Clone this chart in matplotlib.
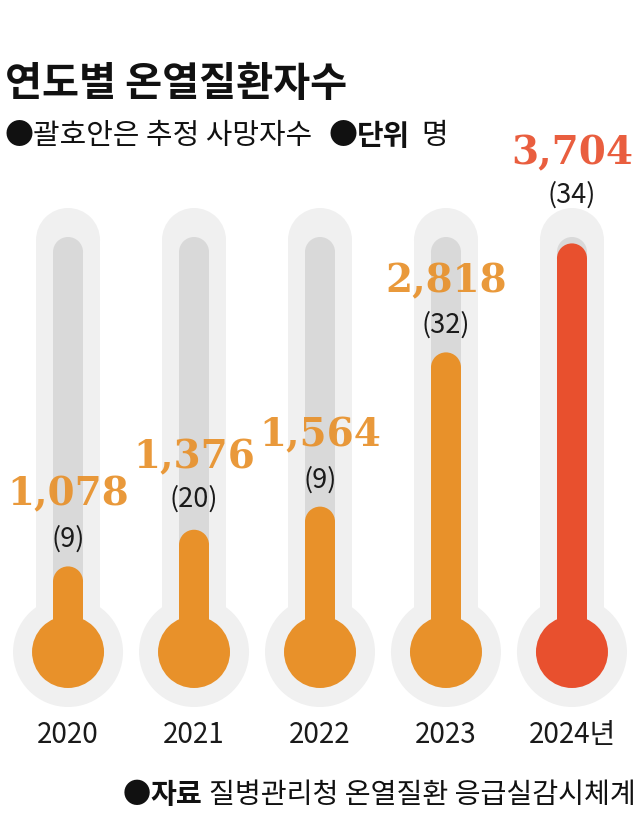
import matplotlib
matplotlib.use("Agg")
import matplotlib.pyplot as plt
from matplotlib.patches import Ellipse, Rectangle

years = ["2020", "2021", "2022", "2023", "2024년"]
patients = [1078, 1376, 1564, 2818, 3704]
deaths = [9, 20, 9, 32, 34]
title = "연도별 온열질환자수"
source = "질병관리청 온열질환 응급실감시체계"

ORANGE = "#E8912A"
RED = "#E8502E"
colors = [ORANGE, ORANGE, ORANGE, ORANGE, RED]
OUTER = "#F0F0F0"
INNER = "#D9D9D9"

W, H = 640, 831
fig = plt.figure(figsize=(W / 100, H / 100), dpi=100)
fig.patch.set_facecolor("white")
ax = fig.add_axes([0, 0, 1, 1])
YBASE_PX = 699.0
VPP = 8.13  # value units per pixel
ax.set_xlim(-0.54, 4.54)
ax.set_ylim((YBASE_PX - H) * VPP, YBASE_PX * VPP)
ax.axis("off")

PXX = W / 5.08
def wx(px):
    return px / PXX
def hy(px):
    return px * VPP
def yv(pxrow):
    return (YBASE_PX - pxrow) * VPP

BULB_ROW = 652
TUBE_TOP_ROW = 240
bulb_c = yv(BULB_ROW)
tube_top = yv(TUBE_TOP_ROW)

for i, (v, c) in enumerate(zip(patients, colors)):
    ow = 64
    ax.add_patch(Rectangle((i - wx(ow / 2), bulb_c), wx(ow), tube_top - bulb_c, fc=OUTER, ec="none", zorder=1))
    ax.add_patch(Ellipse((i, tube_top), wx(ow), hy(ow), fc=OUTER, ec="none", zorder=1))
    ax.add_patch(Ellipse((i, bulb_c), wx(110), hy(110), fc=OUTER, ec="none", zorder=1))
    iw = 30
    top_c = tube_top - hy(iw / 2) + hy(3)
    ax.add_patch(Rectangle((i - wx(iw / 2), bulb_c), wx(iw), top_c - bulb_c, fc=INNER, ec="none", zorder=2))
    ax.add_patch(Ellipse((i, top_c), wx(iw), hy(iw), fc=INNER, ec="none", zorder=2))
    cap_c = v - hy(iw / 2)
    ax.bar(i, cap_c - bulb_c, bottom=bulb_c, width=wx(iw), color=c, zorder=3)
    ax.add_patch(Ellipse((i, cap_c), wx(iw), hy(iw), fc=c, ec="none", zorder=3))
    ax.add_patch(Ellipse((i, bulb_c), wx(72), hy(72), fc=c, ec="none", zorder=3))

KR = ["Noto Sans CJK KR", "DejaVu Sans"]
num_off = [52, 52, 51, 51, 65]
par_off = [20, 22, 19, 20, 35]
for i, (v, d, c) in enumerate(zip(patients, deaths, colors)):
    ax.annotate(f"{v:,}", xy=(i, v), xytext=(0, num_off[i]), textcoords="offset points",
                ha="center", va="center", fontsize=28, fontweight="bold",
                family="DejaVu Serif", color=c, alpha=0.92, zorder=5)
    ax.annotate(f"({d})", xy=(i, v), xytext=(0, par_off[i]), textcoords="offset points",
                ha="center", va="center", fontsize=19.5, family=KR,
                color="#1a1a1a", zorder=5)

for i, y in enumerate(years):
    ax.text(i, yv(735), y, ha="center", va="center", fontsize=20,
            family=KR, color="#1a1a1a")

fig.text(5 / W, 1 - 85 / H, title, fontsize=29, fontweight="black", family=KR,
         ha="left", va="center", color="#111111")

renderer = fig.canvas.get_renderer()

def run(x_px, y_px, parts, size, align="left"):
    texts = []
    x = x_px
    for txt, wt, gap in parts:
        t = fig.text(x / W, 1 - y_px / H, txt, fontsize=size, fontweight=wt, family=KR,
                     ha="left", va="center", color="#111111")
        bb = t.get_window_extent(renderer)
        x = x + bb.width + gap
        texts.append(t)
    if align == "right":
        total = x - x_px
        for t in texts:
            px, py = t.get_position()
            t.set_position((px - total / W, py))
    return texts

run(4, 136, [("●", "normal", 0), ("괄호안은 추정 사망자수", "normal", 16),
             ("●", "normal", 0), ("단위", "bold", 11), ("명", "normal", 0)], 20.8)

run(636, 795, [("●", "normal", 0), ("자료", "bold", 7), (source, "normal", 0)], 20.3, align="right")

fig.savefig("out.png", dpi=100)
